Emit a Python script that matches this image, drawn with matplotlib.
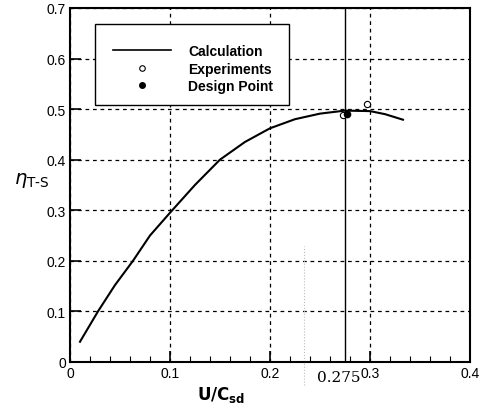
import matplotlib
matplotlib.use("Agg")
import matplotlib.pyplot as plt
from matplotlib.ticker import MultipleLocator
from matplotlib.lines import Line2D
from matplotlib.patches import Rectangle

calc_x = [0.01, 0.028, 0.045, 0.063, 0.08, 0.1, 0.125, 0.15, 0.175, 0.2, 0.225, 0.25, 0.275, 0.3, 0.315, 0.333]
calc_y = [0.04, 0.10, 0.152, 0.20, 0.25, 0.295, 0.35, 0.40, 0.435, 0.462, 0.48, 0.491, 0.497, 0.496, 0.49, 0.479]
exp_x = [0.273, 0.297]
exp_y = [0.489, 0.511]
design_x = [0.277]
design_y = [0.490]
design_u = 0.275
xticks = [0, 0.1, 0.2, 0.3, 0.4]
yticks = [0, 0.1, 0.2, 0.3, 0.4, 0.5, 0.6, 0.7]

plt.rcParams['font.family'] = ['Liberation Sans', 'DejaVu Sans']
fig = plt.figure(figsize=(4.85, 4.06), dpi=100)
ax = fig.add_axes([0.1443, 0.106, 0.8247, 0.872])
ax.set_xlim(0, 0.4)
ax.set_ylim(0, 0.7)

ax.grid(True, which='major', color='black', linestyle=(0, (3, 3)), linewidth=0.9)
ax.plot(calc_x, calc_y, color='black', lw=1.5, zorder=3)
ax.axvline(design_u, color='black', lw=1.0, zorder=3)
ax.plot([0.234, 0.234], [-0.045, 0.23], color='#bbbbbb', lw=0.8, ls=':', clip_on=False)
ax.plot(exp_x, exp_y, 'o', mfc='white', mec='black', ms=4.5, mew=0.8, zorder=4)
ax.plot(design_x, design_y, 'o', color='black', ms=4.5, zorder=5)

ax.set_xticks(xticks)
ax.set_xticklabels(['0', '0.1', '0.2', '0.3', '0.4'])
ax.set_yticks(yticks)
ax.set_yticklabels(['0', '0.1', '0.2', '0.3', '0.4', '0.5', '0.6', '0.7'])
ax.xaxis.set_minor_locator(MultipleLocator(0.02))
ax.tick_params(which='major', direction='in', length=8, width=1.2, labelsize=10, top=False, right=False, pad=3)
ax.tick_params(which='minor', direction='in', length=4, width=0.8, top=False, right=False)
ax.tick_params(axis='y', which='minor', left=False)
for s in ax.spines.values():
    s.set_linewidth(1.5)

ax.text(0.269, -0.029, '0.275', family='DejaVu Serif', fontsize=11, ha='center', va='center')
fig.text(0.456, 0.027, r'$\mathbf{U/C_{sd}}$', fontsize=12, ha='center', va='center')
fig.text(0.065, 0.555, r'$\eta_{\mathrm{T\text{-}S}}$', fontsize=14, ha='center', va='center')

ax.add_patch(Rectangle((0.0625, 0.726), 0.485, 0.229, transform=ax.transAxes,
                       facecolor='white', edgecolor='black', lw=1.0, zorder=6))
handles = [Line2D([], [], color='black', lw=1.2),
           Line2D([], [], marker='o', ls='none', mfc='white', mec='black', ms=4, mew=0.8),
           Line2D([], [], marker='o', ls='none', color='black', ms=4)]
leg = ax.legend(handles, ['Calculation', 'Experiments', 'Design Point'],
                loc='center left', bbox_to_anchor=(0.09, 0.828), frameon=False,
                prop={'weight': 'bold', 'size': 10},
                handlelength=4.2, borderpad=0.0, labelspacing=0.25, handletextpad=1.2)
leg.set_zorder(7)

fig.savefig('out.png', dpi=100)
